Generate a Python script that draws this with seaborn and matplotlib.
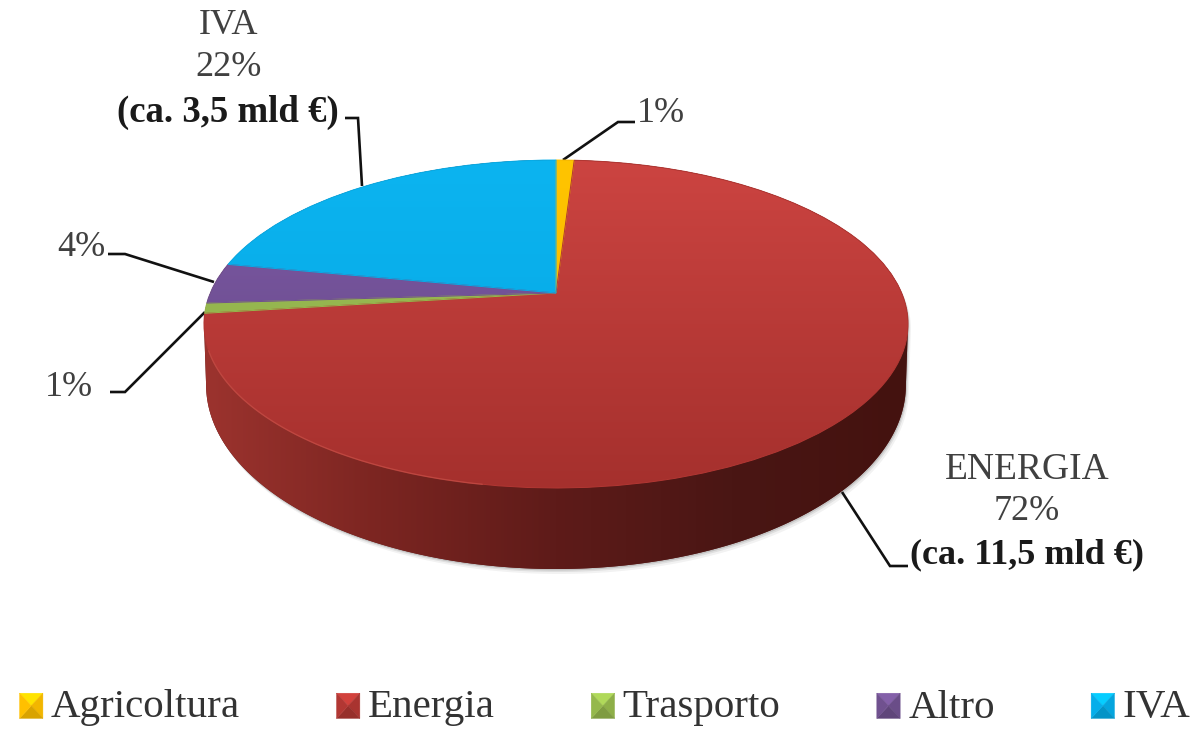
import matplotlib
matplotlib.use('Agg')
import matplotlib.pyplot as plt
import seaborn as sns
import numpy as np
from matplotlib.colors import LinearSegmentedColormap, to_rgb
from matplotlib.legend_handler import HandlerPatch
from matplotlib.patches import Patch, Polygon
from matplotlib.transforms import Transform

categories = ['Agricoltura', 'Energia', 'Trasporto', 'Altro', 'IVA']
shares = [1, 72, 1, 4, 22]
face_colors = ['#ffc000', '#b23733', '#95b84c', '#70518f', '#05aeea']
top_colors = ['#ffc400', '#cc4441', '#9fc057', '#8059a8', '#0cb4f0']
bottom_colors = ['#f5b800', '#a5302d', '#8aab45', '#5f4880', '#04a6e2']
wall_colors = ['#9c332e', '#7b2521', '#5e1b19', '#4a1614', '#44120f']


class PiePerspective(Transform):
    # unit circle of ax.pie -> tilted disc, in image pixels
    input_dims = 2
    output_dims = 2

    def __init__(self, cx=556, cy=293, a=345.7, b=158.1, k=0.189):
        super().__init__()
        self.cx, self.cy, self.a, self.b, self.k = cx, cy, a, b, k

    def transform_non_affine(self, xy):
        xy = np.asarray(xy, dtype=float)
        w = 1 + self.k * xy[:, 1]
        return np.column_stack([self.cx + self.a * xy[:, 0] / w,
                                self.cy - self.b * xy[:, 1] / w])


class BevelHandler(HandlerPatch):
    def create_artists(self, legend, orig_handle, xdescent, ydescent, width,
                       height, fontsize, trans):
        base = np.array(to_rgb(orig_handle.get_facecolor()))
        x0, y0 = -xdescent, -ydescent - 2
        x1, y1 = x0 + width, y0 + height
        xm, ym = (x0 + x1) / 2, (y0 + y1) / 2
        tris = [([x0, y1], [x1, y1], 1.18), ([x1, y1], [x1, y0], 0.95),
                ([x1, y0], [x0, y0], 0.85), ([x0, y0], [x0, y1], 1.0)]
        out = []
        for p, q, f in tris:
            c = np.clip(base * f, 0, 1)
            out.append(Polygon([p, q, [xm, ym]], closed=True, facecolor=c,
                               edgecolor=c, lw=0.3, transform=trans))
        return out


sns.set_theme(style='white')
plt.rcParams['font.family'] = ['Liberation Serif', 'DejaVu Serif']

fig = plt.figure(figsize=(12, 7.3), dpi=100)
ax = fig.add_axes([0, 0, 1, 1])

wedges, _ = ax.pie(shares, startangle=90, counterclock=False,
                   colors=sns.color_palette(face_colors))
ax.set_aspect('auto')
persp = PiePerspective()

# side wall and its soft shadow
t = np.linspace(0, np.pi, 200)
wall_x = np.r_[556 - 352 * np.cos(t) * 0.994, 908, 556 + 352 * np.cos(t), 204]
wall_y = np.r_[385 + 184 * np.sin(t), 324, 324 - 164 * np.sin(t), 324]
for off, alpha in [(5, 0.05), (3, 0.08), (1.5, 0.12)]:
    ax.add_patch(Polygon(np.column_stack([wall_x + off * 0.6, wall_y + off]),
                         closed=True, fc='black', ec='none', alpha=alpha,
                         zorder=1))
wall = Polygon(np.column_stack([wall_x, wall_y]), closed=True,
               fc=wall_colors[2], ec='none', zorder=2)
ax.add_patch(wall)
wall_img = ax.imshow(np.linspace(0, 1, 256)[None, :], aspect='auto',
                     extent=(204, 908, 570, 160), zorder=3,
                     cmap=LinearSegmentedColormap.from_list('wall', wall_colors))
wall_img.set_clip_path(wall)

# top face, one vertical gradient per slice
for w, c0, c1, fc in zip(wedges, top_colors, bottom_colors, face_colors):
    w.set_transform(persp + ax.transData)
    w.set_facecolor('none')
    w.set_edgecolor(fc)
    w.set_linewidth(0.7)
    w.set_zorder(5)
    img = ax.imshow(np.linspace(0, 1, 256)[:, None], aspect='auto',
                    extent=(204, 908, 488, 160), zorder=4,
                    cmap=LinearSegmentedColormap.from_list('f', [c0, c1]))
    img.set_clip_path(w)

# light rim along the front left edge
th = np.radians(np.linspace(190, 250, 120))
rim = persp.transform_non_affine(np.column_stack([np.sin(th), np.cos(th)]))
ax.plot(rim[:, 0], rim[:, 1], color='#c9524a', lw=1.0, alpha=0.6, zorder=6)

# leader lines
leaders = [[(563, 160), (618, 122), (635, 122)],
           [(842, 492), (890, 566), (908, 566)],
           [(205, 312), (125, 392), (110, 392)],
           [(214, 282), (125, 254), (108, 254)],
           [(362, 186), (358, 118), (345, 118)]]
for pts in leaders:
    ax.plot(*zip(*pts), color='#111111', lw=1.9, zorder=3,
            solid_joinstyle='miter', solid_capstyle='butt')

fs = 26
grey = '#404040'
ax.text(661, 114, '1%', fontsize=fs, color=grey, ha='center', va='center')
ax.text(81, 247, '4%', fontsize=fs, color=grey, ha='center', va='center')
ax.text(69, 387, '1%', fontsize=fs, color=grey, ha='center', va='center')
ax.text(229, 25, 'IVA', fontsize=fs, color=grey, ha='center', va='center')
ax.text(229, 68, '22%', fontsize=fs, color=grey, ha='center', va='center')
ax.text(228, 112, '(ca. 3,5 mld €)', fontsize=fs + 0.5, color='#1a1a1a',
        fontweight='bold', ha='center', va='center')
ax.text(1027, 470, 'ENERGIA', fontsize=fs + 1, color=grey, ha='center', va='center')
ax.text(1027, 512, '72%', fontsize=fs, color=grey, ha='center', va='center')
ax.text(1027, 555, '(ca. 11,5 mld €)', fontsize=fs, color='#1a1a1a',
        fontweight='bold', ha='center', va='center')

handles = [Patch(facecolor=c, label=n) for c, n in zip(face_colors, categories)]
leg = ax.legend(handles=handles, ncol=5, frameon=False, fontsize=29.5,
                loc='center', bbox_to_anchor=(605, 708),
                bbox_transform=ax.transData, labelcolor='#333333',
                handlelength=0.57, handleheight=0.57, handletextpad=0.2,
                columnspacing=2.35, borderpad=0, borderaxespad=0,
                handler_map={Patch: BevelHandler()})

ax.set_xlim(0, 1200)
ax.set_ylim(730, 0)
ax.axis('off')

plt.savefig('out.png', dpi=100)
